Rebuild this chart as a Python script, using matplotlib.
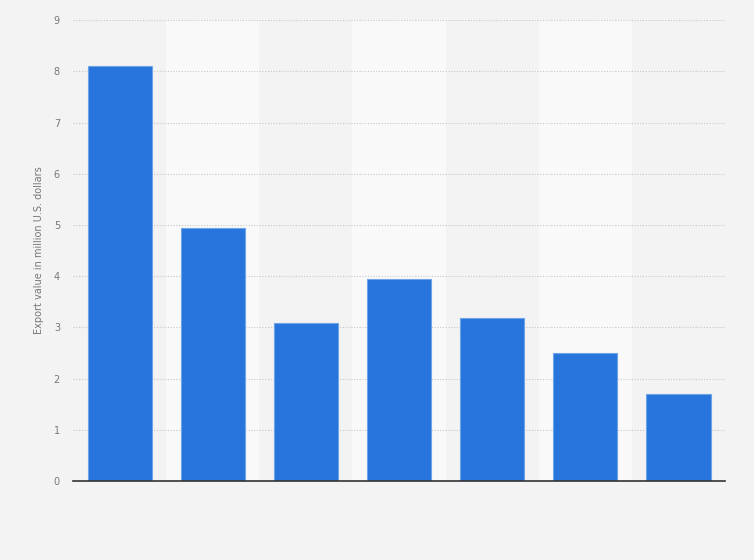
import matplotlib.pyplot as plt

categories = ["1", "2", "3", "4", "5", "6", "7"]
values = [8.1, 4.95, 3.09, 3.95, 3.18, 2.5, 1.7]
y_ticks = [0, 1, 2, 3, 4, 5, 6, 7, 8, 9]

fig = plt.figure(figsize=(7.54, 5.6), dpi=100, facecolor="#f3f3f3")
ax = fig.add_axes([0.097, 0.141, 0.8645, 0.823])
ax.set_facecolor("#f3f3f3")

x = list(range(len(categories)))
# alternating column bands
for i in x:
    if i % 2 == 1:
        ax.axvspan(i - 0.5, i + 0.5, color="#f9f9f9", zorder=0, lw=0)

ax.bar(x, values, width=0.69, color="#2775dc", edgecolor="#6fa3e8", linewidth=0.8, zorder=3)

ax.set_xlim(-0.5, len(categories) - 0.5)
ax.set_ylim(0, 9)
ax.set_yticks(y_ticks)
ax.set_xticks([])
ax.yaxis.grid(True, linestyle=(0, (1, 1.5)), color="#c8c8c8", linewidth=0.8, zorder=1)
ax.tick_params(axis="y", length=0, pad=9.5, labelsize=7, labelcolor="#777777")
for side in ["top", "right", "left"]:
    ax.spines[side].set_visible(False)
ax.spines["bottom"].set_color("#333333")
ax.spines["bottom"].set_linewidth(1.2)
ax.spines["bottom"].set_zorder(4)

ax.set_ylabel("Export value in million U.S. dollars", fontsize=7, color="#777777", labelpad=7)

fig.savefig("out.png", dpi=100, facecolor=fig.get_facecolor())
